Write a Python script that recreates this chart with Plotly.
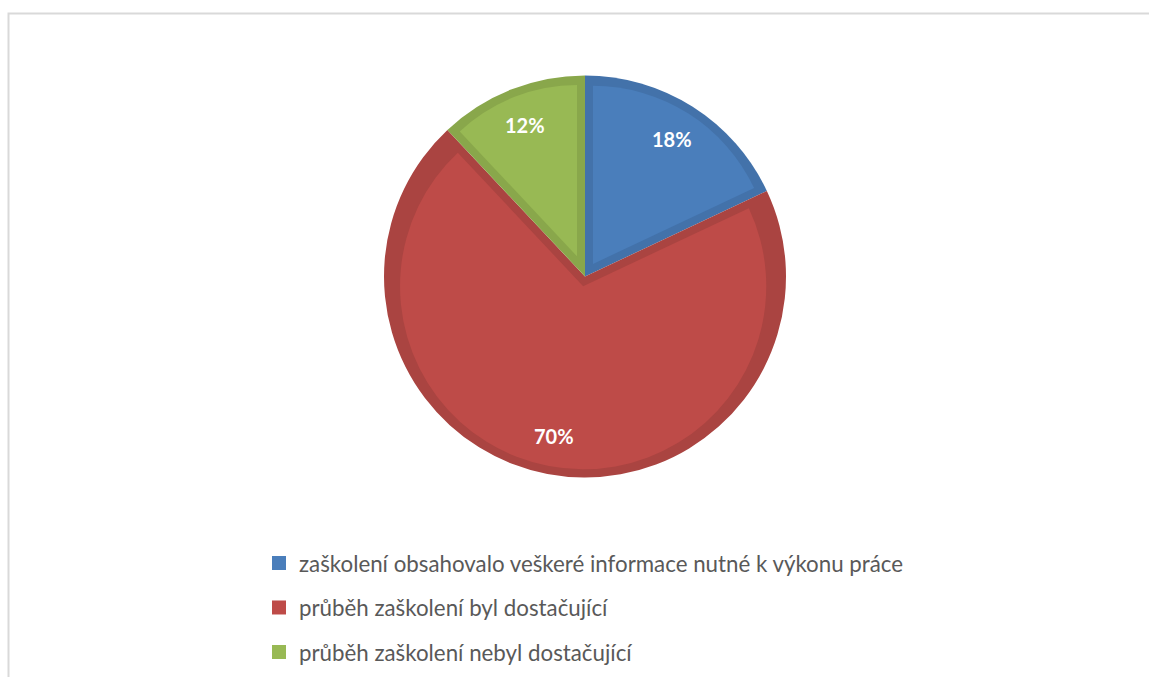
import math
import plotly.graph_objects as go

# Survey answers and their shares (percent)
categories = [
    "zaškolení obsahovalo veškeré informace nutné k výkonu práce",
    "průběh zaškolení byl dostačující",
    "průběh zaškolení nebyl dostačující",
]
shares = [18, 70, 12]

fill_colors = ["#4a7ebb", "#be4b48", "#98b954"]
edge_colors = ["#4372aa", "#aa4441", "#89a74b"]

W, H = 1149, 677
CX, CY, R = 585, 276.5, 201      # pie centre and radius in pixels
BAND = 8                          # width of the darker inner rim of each slice


def domain(radius):
    return dict(x=[(CX - radius) / W, (CX + radius) / W],
                y=[1 - (CY + radius) / H, 1 - (CY - radius) / H])


fig = go.Figure()

# Darker full slices form the rim
fig.add_trace(go.Pie(
    labels=categories, values=shares, sort=False,
    direction="clockwise", rotation=0,
    marker=dict(colors=edge_colors, line=dict(width=0)),
    textinfo="none", hoverinfo="label+percent",
    showlegend=False, domain=domain(R),
))

# Lighter inset of each slice, shifted out along its bisector
total = sum(shares)
for i, share in enumerate(shares):
    half = math.pi * share / total
    shift = BAND / math.sin(half)
    inner_r = R - BAND - shift
    cols = ["rgba(0,0,0,0)"] * len(shares)
    cols[i] = fill_colors[i]
    pull = [0] * len(shares)
    pull[i] = shift / inner_r
    fig.add_trace(go.Pie(
        labels=categories, values=shares, sort=False,
        direction="clockwise", rotation=0,
        marker=dict(colors=cols, line=dict(width=0)),
        pull=pull, textinfo="none", hoverinfo="skip",
        showlegend=False, domain=domain(R - BAND),
    ))

# Percentage labels placed inside each slice
annotations = []
start = 0.0
for share in shares:
    mid = 2 * math.pi * (start + share / 2) / total
    x = CX + 0.81 * R * math.sin(mid)
    y = CY - 0.81 * R * math.cos(mid)
    annotations.append(dict(
        x=x / W, y=1 - y / H, xref="paper", yref="paper",
        xanchor="center", yanchor="middle",
        text=f"{share}%", showarrow=False,
        font=dict(family="Lato", size=20, color="white", weight="bold"),
    ))
    start += share

# Legend entries as square markers
for name, col in zip(categories, fill_colors):
    fig.add_trace(go.Scatter(
        x=[None], y=[None], mode="markers", name=name,
        legendgroup=name,
        marker=dict(symbol="square", size=14, color=col),
    ))

fig.update_layout(
    width=W, height=H,
    margin=dict(l=0, r=0, t=0, b=0),
    paper_bgcolor="white",
    plot_bgcolor="white",
    xaxis=dict(visible=False),
    yaxis=dict(visible=False),
    annotations=annotations,
    legend=dict(
        x=259 / W, xanchor="left",
        y=1 - 542 / H, yanchor="top",
        font=dict(family="Lato", size=22.3, color="#595959"),
        tracegroupgap=12.5,
        itemwidth=30,
        bgcolor="rgba(0,0,0,0)",
    ),
    shapes=[dict(
        type="rect", xref="paper", yref="paper",
        x0=8.5 / W, x1=1.01, y0=-0.01, y1=1 - 13.5 / H,
        line=dict(color="#d9d9d9", width=2),
    )],
)

fig.write_html("out.html")
